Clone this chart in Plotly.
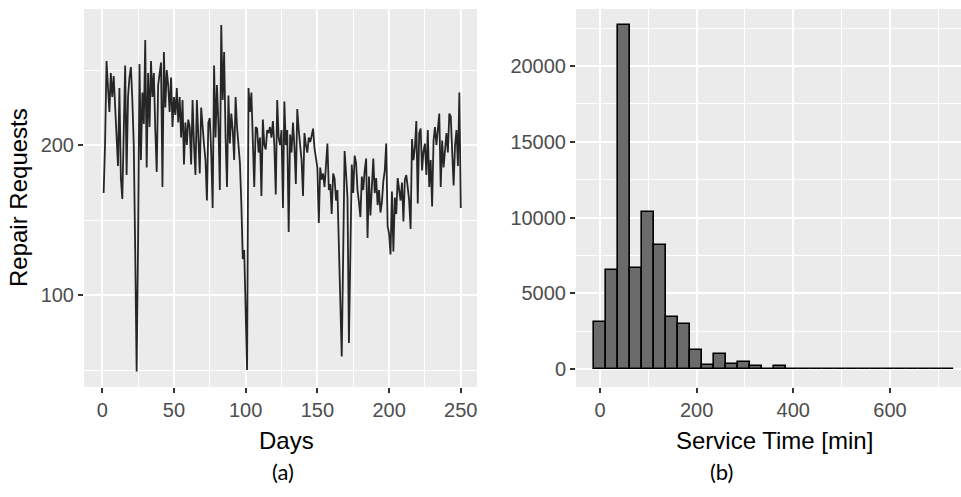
import plotly.graph_objects as go

# ---- daily repair requests (days 1..250) ----
days = list(range(1, 251))
repair_requests = [
    168, 201, 256, 240, 222, 248, 232, 246, 225, 202,
    186, 238, 178, 164, 215, 253, 180, 232, 245, 252,
    230, 200, 130, 49, 134, 254, 190, 235, 214, 270,
    185, 248, 212, 256, 232, 248, 210, 182, 240, 250,
    255, 172, 262, 225, 250, 240, 222, 245, 212, 232,
    220, 238, 215, 232, 205, 230, 187, 215, 200, 217,
    212, 187, 230, 200, 180, 230, 205, 181, 225, 210,
    200, 190, 163, 215, 218, 195, 158, 253, 205, 240,
    215, 170, 280, 230, 262, 205, 172, 233, 201, 221,
    210, 190, 232, 212, 200, 188, 161, 124, 130, 89,
    50, 238, 222, 235, 205, 172, 212, 211, 195, 205,
    166, 217, 200, 197, 210, 208, 212, 205, 216, 200,
    167, 230, 205, 200, 210, 158, 229, 200, 210, 142,
    207, 195, 215, 199, 174, 224, 210, 200, 190, 166,
    208, 200, 195, 205, 202, 206, 211, 198, 190, 185,
    148, 185, 177, 181, 172, 191, 201, 170, 174, 154,
    181, 178, 163, 170, 130, 111, 59, 127, 196, 181,
    165, 68, 127, 187, 168, 193, 188, 170, 162, 152,
    179, 170, 183, 191, 138, 179, 153, 175, 191, 168,
    178, 160, 170, 155, 162, 176, 183, 201, 146, 141,
    127, 169, 129, 165, 154, 178, 170, 163, 175, 149,
    177, 180, 172, 163, 144, 204, 190, 198, 216, 161,
    208, 211, 183, 196, 201, 180, 210, 172, 190, 159,
    203, 212, 200, 214, 221, 172, 203, 185, 197, 208,
    195, 221, 219, 190, 173, 200, 210, 186, 235, 158,
]

# ---- service time histogram (30 bins, centred on 0) ----
bin_width = 24.8
bin_counts = [
    3125, 6540, 22675, 6650, 10390, 8190, 3415, 2970, 1250, 270,
    1000, 340, 470, 170, 20, 200, 12, 8, 6, 5,
    4, 3, 3, 2, 2, 1, 1, 1, 1, 1,
]
bin_centers = [i * bin_width for i in range(len(bin_counts))]

W, H = 961, 497
PANEL_BG = "#EBEBEB"
TICK_FONT = dict(family="Liberation Sans, Arial, sans-serif", size=20, color="#4D4D4D")
TITLE_FONT = dict(family="Liberation Sans, Arial, sans-serif", size=24, color="#000000")
LABEL_FONT = dict(family="Lato, Open Sans, sans-serif", size=22, color="#000000")


def px_x(p):
    return p / W


def px_y(p):
    return 1 - p / H


fig = go.Figure()

fig.add_trace(go.Scatter(
    x=days, y=repair_requests, mode="lines",
    line=dict(color="#262626", width=1.8),
    xaxis="x", yaxis="y", showlegend=False,
))

fig.add_trace(go.Bar(
    x=bin_centers, y=bin_counts, width=bin_width,
    marker=dict(color="#6B6B6B", line=dict(color="#000000", width=1.6)),
    xaxis="x2", yaxis="y2", showlegend=False,
))

axis_common = dict(
    showgrid=True, gridcolor="white", gridwidth=2,
    zeroline=False, showline=False,
    ticks="outside", ticklen=5, tickwidth=1.6, tickcolor="#333333",
    tickfont=TICK_FONT, tickformat="d",
)

fig.update_layout(
    width=W, height=H,
    margin=dict(l=0, r=0, t=0, b=0),
    paper_bgcolor="white",
    plot_bgcolor=PANEL_BG,
    bargap=0,
    xaxis=dict(
        domain=[px_x(84), px_x(477)], anchor="y",
        range=[-12.7, 261.3], tickmode="linear", tick0=0, dtick=50,
        minor=dict(dtick=25, tick0=0, showgrid=True, gridcolor="white", gridwidth=1),
        **axis_common,
    ),
    yaxis=dict(
        domain=[px_y(387), px_y(9)], anchor="x",
        range=[38.7, 290.7], tickmode="array", tickvals=[100, 200],
        minor=dict(tickmode="array", tickvals=[50, 150, 250], showgrid=True,
                   gridcolor="white", gridwidth=1),
        **axis_common,
    ),
    xaxis2=dict(
        domain=[px_x(576), 1.0], anchor="y2",
        range=[-49.7, 747], tickmode="linear", tick0=0, dtick=200,
        minor=dict(dtick=100, tick0=0, showgrid=True, gridcolor="white", gridwidth=1),
        **axis_common,
    ),
    yaxis2=dict(
        domain=[px_y(387), px_y(9)], anchor="x2",
        range=[-1188, 23762], tickmode="linear", tick0=0, dtick=5000,
        minor=dict(dtick=2500, tick0=0, showgrid=True, gridcolor="white", gridwidth=1),
        **axis_common,
    ),
)

annotations = [
    dict(text="Days", x=px_x(286), y=px_y(440), font=TITLE_FONT),
    dict(text="Service Time [min]", x=px_x(774), y=px_y(440), font=TITLE_FONT),
    dict(text="Repair Requests", x=px_x(19), y=px_y(198), font=TITLE_FONT, textangle=-90),
    dict(text="(a)", x=px_x(283), y=px_y(471), font=LABEL_FONT),
    dict(text="(b)", x=px_x(721), y=px_y(471), font=LABEL_FONT),
]
for a in annotations:
    fig.add_annotation(xref="paper", yref="paper", showarrow=False,
                       xanchor="center", yanchor="middle", **a)

fig.write_html("out.html")
